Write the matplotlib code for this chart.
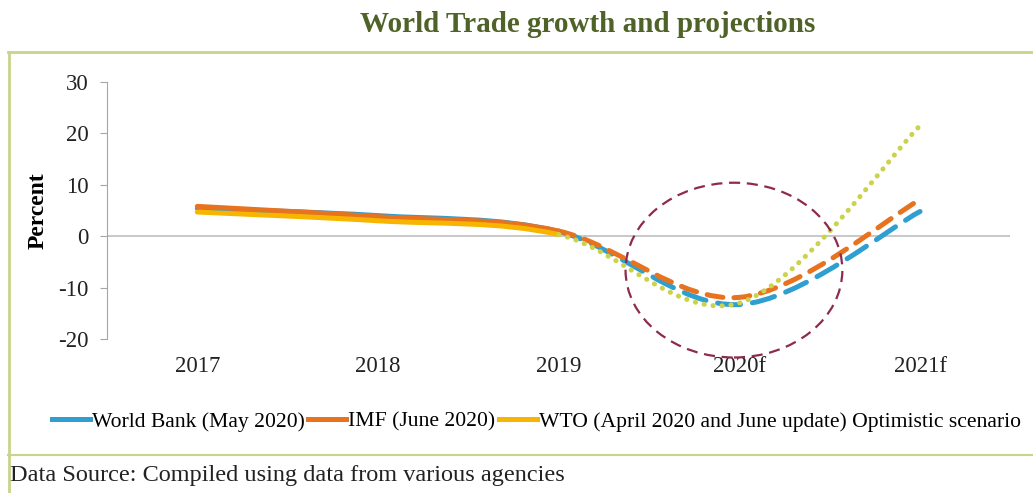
import matplotlib
matplotlib.use("Agg")
import matplotlib.pyplot as plt
from matplotlib.path import Path
from matplotlib.patches import PathPatch, Ellipse
from matplotlib.lines import Line2D

plt.rcParams['font.family'] = ['Liberation Serif', 'DejaVu Serif']
plt.rcParams['axes.unicode_minus'] = False

# data
years = ['2017', '2018', '2019', '2020f', '2021f']
world_bank = [5.4, 4.0, 0.9, -13.3, 4.8]
imf = [5.8, 3.8, 1.0, -11.9, 7.1]
wto = [4.7, 3.0, 0.3, -13.0, 21.5]
n_actual = 3  # 2017-2019 are actuals, the rest are forecasts

blue = '#2E9FD0'
orange = '#E8731E'
yellow = '#F7B500'
yellow_dot = '#CBD34C'
border = '#C8D48A'


def smooth_path(xs, ys):
    # Excel style smooth line: cubic bezier through each point
    verts = [(xs[0], ys[0])]
    codes = [Path.MOVETO]
    n = len(xs)
    for i in range(n - 1):
        x0, y0 = (xs[i - 1], ys[i - 1]) if i > 0 else (xs[i], ys[i])
        x1, y1 = xs[i], ys[i]
        x2, y2 = xs[i + 1], ys[i + 1]
        x3, y3 = (xs[i + 2], ys[i + 2]) if i + 2 < n else (x2, y2)
        c1 = (x1 + (x2 - x0) / 6, y1 + (y2 - y0) / 6)
        c2 = (x2 - (x3 - x1) / 6, y2 - (y3 - y1) / 6)
        verts += [c1, c2, (x2, y2)]
        codes += [Path.CURVE4] * 3
    return verts, codes


def draw_series(ax, vals, color, fcolor, style, z):
    xs = list(range(len(vals)))
    verts, codes = smooth_path(xs, vals)
    split = 1 + 3 * (n_actual - 1)
    solid = Path(verts[:split], codes[:split])
    fc_codes = [Path.MOVETO] + codes[split:]
    fc = Path(verts[split - 1:], fc_codes)
    ax.add_patch(PathPatch(solid, fill=False, edgecolor=color, lw=3.6,
                           capstyle='round', zorder=z))
    p = PathPatch(fc, fill=False, edgecolor=fcolor, lw=3.6, linestyle=style,
                  capstyle='round', zorder=z)
    ax.add_patch(p)


fig = plt.figure(figsize=(10.33, 4.93), dpi=100)
ax = fig.add_axes([0.1036, 0.3124, 0.8745, 0.5213])

draw_series(ax, world_bank, blue, blue, (0, (4.6, 2.4)), 3)
draw_series(ax, imf, orange, orange, (0, (3.2, 2.2)), 4)
draw_series(ax, wto, yellow, yellow_dot, (0, (0.05, 1.75)), 5)

ax.axhline(0, color='#BFBFBF', lw=1.2, zorder=1)
ax.add_patch(Ellipse((2.97, -6.6), 1.2, 34, fill=False, edgecolor='#8E2A4E',
                     lw=1.6, linestyle=(0, (5, 3)), zorder=6, clip_on=False))

ax.set_xlim(-0.5, 4.5)
ax.set_ylim(-20, 30)
ax.set_yticks([-20, -10, 0, 10, 20, 30])
ax.set_xticks(range(len(years)))
ax.set_xticklabels(years)
for s in ['top', 'right', 'bottom']:
    ax.spines[s].set_visible(False)
ax.spines['left'].set_color('#A6A6A6')
ax.tick_params(axis='y', colors='#A6A6A6', labelcolor='#222222', labelsize=16.5,
               length=5, pad=8)
ax.tick_params(axis='x', length=0, labelsize=16.5, labelcolor='#222222', pad=12)
ax.set_ylabel('Percent', fontsize=17, fontweight='bold')
ax.yaxis.set_label_coords(-0.065, 0.5)

handles = [Line2D([], [], color=blue, lw=3.6),
           Line2D([], [], color=orange, lw=3.6),
           Line2D([], [], color=yellow, lw=3.6)]
labels = ['World Bank (May 2020)', 'IMF (June 2020)',
          'WTO (April 2020 and June update) Optimistic scenario']
fig.legend(handles, labels, loc='center left', bbox_to_anchor=(0.042, 0.145),
           ncol=3, frameon=False, fontsize=15.6, handlelength=1.75,
           handletextpad=0.1, columnspacing=0.15, borderaxespad=0)

fig.text(0.569, 0.95, 'World Trade growth and projections', ha='center',
         va='center', fontsize=21, fontweight='bold', color='#4F6228')
fig.text(0.01, 0.035, 'Data Source: Compiled using data from various agencies',
         ha='left', va='center', fontsize=17.5, color='#222222')

# frame lines around the chart box
fig.add_artist(Line2D([0.008, 1.0], [0.895, 0.895], color=border, lw=2))
fig.add_artist(Line2D([0.009, 0.009], [0.0, 0.895], color=border, lw=2))
fig.add_artist(Line2D([0.008, 1.0], [0.077, 0.077], color=border, lw=1.5))

fig.savefig('out.png', dpi=100)
